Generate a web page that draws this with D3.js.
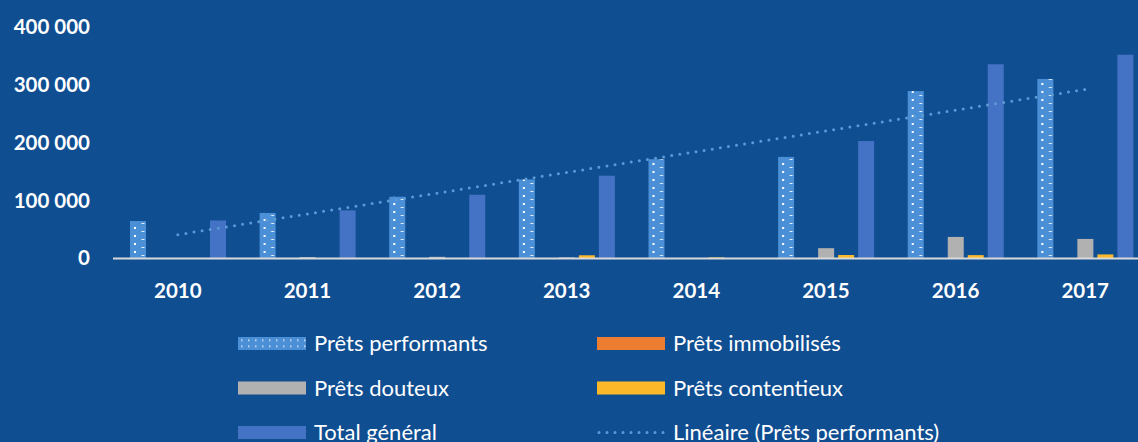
<!DOCTYPE html>
<html>
<head>
<meta charset="utf-8">
<script src="https://cdn.jsdelivr.net/npm/d3@7"></script>
<style>
  html, body { margin: 0; padding: 0; background: #104e92; }
  svg { display: block; }
</style>
</head>
<body>
<div id="chart"></div>
<script>
const width = 1138;
const height = 442;

// Data
const years = ["2010", "2011", "2012", "2013", "2014", "2015", "2016", "2017"];
const pretsPerformants = [64000, 78000, 106000, 136000, 171000, 175000, 289000, 310000];
const pretsImmobilises = [0, 0, 0, 0, 0, 0, 0, 0];
const pretsDouteux = [0, 1500, 2000, 1000, 0, 17000, 36500, 33000];
const pretsContentieux = [0, 0, 0, 4700, 1000, 5200, 5000, 6200];
const totalGeneral = [65000, 82500, 109500, 142500, 0, 202500, 335500, 352000];
const yTicks = [0, 100000, 200000, 300000, 400000];

const seriesNames = ["Prêts performants", "Prêts immobilisés", "Prêts douteux", "Prêts contentieux", "Total général"];
const seriesValues = [pretsPerformants, pretsImmobilises, pretsDouteux, pretsContentieux, totalGeneral];
const seriesColors = ["url(#dots)", "#ed7d31", "#b1b1b1", "#fbb829", "#4472c4"];
const trendLabel = "Linéaire (Prêts performants)";

const margin = { left: 113, right: -12, top: 27, bottom: 184 };
const font = "Lato, 'Open Sans', sans-serif";

const svg = d3.select("#chart").append("svg")
    .attr("width", width)
    .attr("height", height)
    .attr("viewBox", [0, 0, width, height]);

svg.append("rect").attr("width", width).attr("height", height).attr("fill", "#104e92");

// dotted fill for the performing loans (pattern origin follows each bar group)
const defs = svg.append("defs");
const pat = defs.append("pattern")
    .attr("id", "dots")
    .attr("patternUnits", "userSpaceOnUse")
    .attr("x", 17)
    .attr("width", 16).attr("height", 8);
pat.append("rect").attr("width", 16).attr("height", 8).attr("fill", "#4b90d6");
pat.append("rect").attr("x", 4).attr("y", 3).attr("width", 2).attr("height", 2).attr("fill", "#ffffff");
pat.append("rect").attr("x", 11.5).attr("y", 7).attr("width", 3).attr("height", 1.5).attr("fill", "#e8f0fa");

const legPat = defs.append("pattern")
    .attr("id", "dotsLegend")
    .attr("patternUnits", "userSpaceOnUse")
    .attr("width", 7).attr("height", 6);
legPat.append("rect").attr("width", 7).attr("height", 6).attr("fill", "#4b90d6");
legPat.append("rect").attr("x", 3).attr("y", 2).attr("width", 1.5).attr("height", 1.5).attr("fill", "#dce8f6");

const x0 = d3.scaleBand()
    .domain(years)
    .range([margin.left, width - margin.right]);

const x1 = d3.scaleBand()
    .domain(d3.range(seriesNames.length))
    .range([17, 113])
    .paddingInner(0.2);

const y = d3.scaleLinear()
    .domain([0, 400000])
    .range([height - margin.bottom, margin.top]);

const fmt = v => d3.format(",")(v).replace(/,/g, " ");

// y tick labels
svg.append("g").selectAll("text")
    .data(yTicks)
    .enter().append("text")
    .attr("x", 90)
    .attr("y", d => y(d))
    .attr("dy", "0.36em")
    .attr("text-anchor", "end")
    .style("font-family", font)
    .style("font-weight", "bold")
    .style("font-size", "20.5px")
    .style("fill", "#ffffff")
    .text(fmt);

// bars
const groups = svg.append("g").selectAll("g")
    .data(years)
    .enter().append("g")
    .attr("transform", d => `translate(${x0(d)},0)`);

groups.selectAll("rect")
    .data((d, i) => seriesValues.map((s, k) => ({ k, v: s[i] })))
    .enter().append("rect")
    .attr("x", d => x1(d.k))
    .attr("width", x1.bandwidth())
    .attr("y", d => y(d.v))
    .attr("height", d => y(0) - y(d.v))
    .attr("fill", d => seriesColors[d.k]);

// baseline
svg.append("line")
    .attr("x1", margin.left).attr("x2", width)
    .attr("y1", y(0) + 0.5).attr("y2", y(0) + 0.5)
    .attr("stroke", "#d9d9d9")
    .attr("stroke-width", 2);

// year labels
svg.append("g").selectAll("text")
    .data(years)
    .enter().append("text")
    .attr("x", d => x0(d) + x0.bandwidth() / 2)
    .attr("y", 291)
    .attr("dy", "0.36em")
    .attr("text-anchor", "middle")
    .style("font-family", font)
    .style("font-weight", "bold")
    .style("font-size", "20.5px")
    .style("fill", "#ffffff")
    .text(d => d);

// linear trend of performing loans (least squares, like the spreadsheet)
const xs = years.map((d, i) => i);
const mx = d3.mean(xs), my = d3.mean(pretsPerformants);
const slope = d3.sum(xs, (v, i) => (v - mx) * (pretsPerformants[i] - my)) / d3.sum(xs, v => (v - mx) ** 2);
const intercept = my - slope * mx;
const trend = [0, years.length - 1].map(i => [x0(years[i]) + x0.bandwidth() / 2, y(intercept + slope * i)]);

svg.append("path")
    .attr("d", d3.line()(trend))
    .attr("fill", "none")
    .attr("stroke", "#5b9bd5")
    .attr("stroke-width", 3)
    .attr("stroke-linecap", "round")
    .attr("stroke-dasharray", "0 8.2");

// legend
const legendItems = [
  { name: seriesNames[0], fill: "url(#dotsLegend)", col: 0, row: 0 },
  { name: seriesNames[1], fill: seriesColors[1], col: 1, row: 0 },
  { name: seriesNames[2], fill: seriesColors[2], col: 0, row: 1 },
  { name: seriesNames[3], fill: seriesColors[3], col: 1, row: 1 },
  { name: seriesNames[4], fill: seriesColors[4], col: 0, row: 2 },
  { name: trendLabel, fill: null, col: 1, row: 2 }
];
const legCols = [238, 597];
const legRows = [343.5, 388, 432.5];

const leg = svg.append("g").selectAll("g")
    .data(legendItems)
    .enter().append("g")
    .attr("transform", d => `translate(${legCols[d.col]},${legRows[d.row]})`);

leg.filter(d => d.fill).append("rect")
    .attr("x", 0).attr("y", -6.5)
    .attr("width", 68).attr("height", 13)
    .attr("fill", d => d.fill);

leg.filter(d => !d.fill).append("line")
    .attr("x1", 2).attr("x2", 68)
    .attr("stroke", "#5b9bd5")
    .attr("stroke-width", 3)
    .attr("stroke-linecap", "round")
    .attr("stroke-dasharray", "0 8");

leg.append("text")
    .attr("x", 76)
    .attr("dy", "0.36em")
    .style("font-family", font)
    .style("font-size", "22px")
    .style("fill", "#ffffff")
    .text(d => d.name);
</script>
</body>
</html>
